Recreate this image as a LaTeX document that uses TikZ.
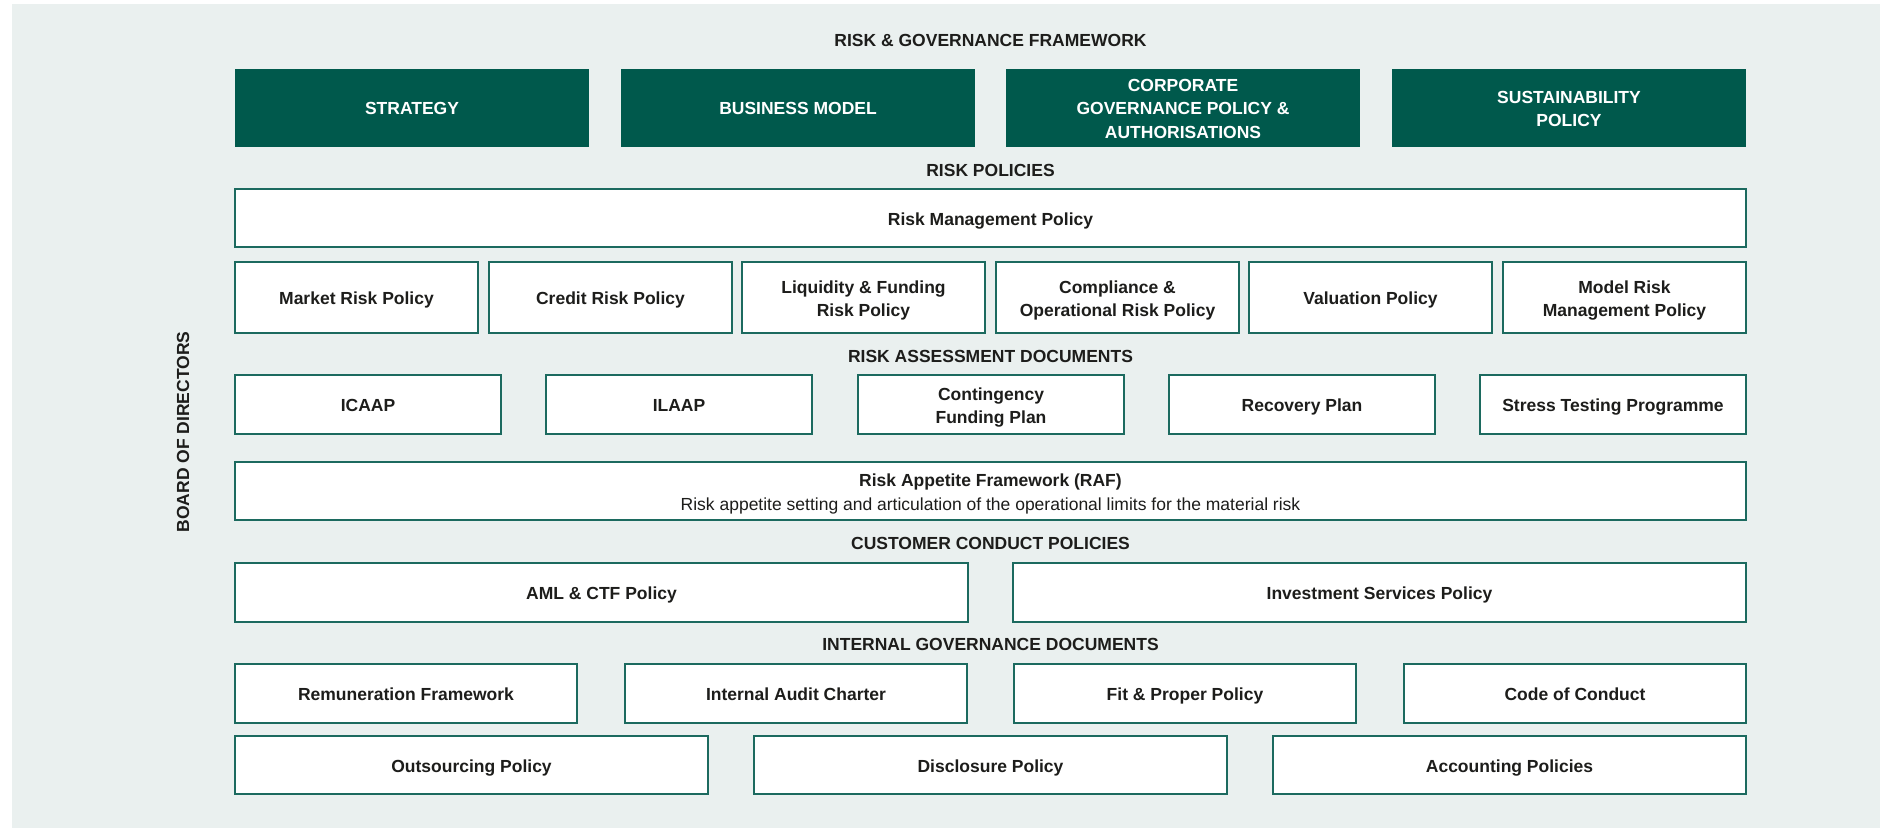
\documentclass[tikz,border=0pt]{standalone}
\usepackage{fontspec}
\setmainfont{Liberation Sans}
\definecolor{dgreen}{HTML}{00594C}
\definecolor{bgreen}{HTML}{1C6A5F}
\definecolor{bgcol}{HTML}{EAF0EF}
\definecolor{txt}{HTML}{1D1D1B}
\begin{document}
\begin{tikzpicture}[x=1pt,y=-1pt,
  lab/.style={font=\bfseries\fontsize{17.5}{23.5}\selectfont},
  dbox/.style={fill=dgreen, draw=none, inner sep=0pt},
  wbox/.style={fill=white, draw=bgreen, line width=1.8pt, inner sep=0pt},
  tx/.style={lab, text=txt, anchor=base, inner sep=0pt},
  txw/.style={lab, text=white, anchor=base, inner sep=0pt},
  head/.style={lab, text=txt, anchor=base, inner sep=0pt},
  ]
\useasboundingbox (0,0) rectangle (1887,828);
\fill[bgcol] (12,4) rectangle (1880,828);

% title
\node[head] (title) at (990.5,46.5) {RISK \& GOVERNANCE FRAMEWORK};

% top dark boxes
\tikzset{dk/.style={dbox, minimum width=354pt, minimum height=78pt}}
\node[dk] (strat) at (412,108) {};
\node[txw] (stratt) at ([yshift=-6.8pt]strat.center) {STRATEGY};
\node[dk] (bm) at (798,108) {};
\node[txw] (bmt) at ([yshift=-6.8pt]bm.center) {BUSINESS MODEL};
\node[dk] (cgp) at (1183,108) {};
\node[txw] (cgpa) at ([yshift=17pt]cgp.center) {CORPORATE};
\node[txw] (cgpb) at ([yshift=-6.8pt]cgp.center) {GOVERNANCE POLICY \&};
\node[txw] (cgpc) at ([yshift=-30.5pt]cgp.center) {AUTHORISATIONS};
\node[dk] (sus) at (1569,108) {};
\node[txw] (susa) at ([yshift=5pt]sus.center) {SUSTAINABILITY};
\node[txw] (susb) at ([yshift=-18.8pt]sus.center) {POLICY};

% risk policies
\node[head] (hrp) at (990.5,176.5) {RISK POLICIES};
\node[wbox, minimum width=1511pt, minimum height=58pt] (rmp) at (990.5,218) {};
\node[tx] (rmpt) at ([yshift=-7.3pt]rmp.center) {Risk Management Policy};
\tikzset{pb/.style={wbox, minimum width=243pt, minimum height=71pt}}
\node[pb] (p1) at (356.5,297.5) {};
\node[tx] (p1t) at ([yshift=-7.3pt]p1.center) {Market Risk Policy};
\node[pb] (p2) at (610.5,297.5) {};
\node[tx] (p2t) at ([yshift=-7.3pt]p2.center) {Credit Risk Policy};
\node[pb] (p3) at (863.5,297.5) {};
\node[tx] (p3a) at ([yshift=4.45pt]p3.center) {Liquidity \& Funding};
\node[tx] (p3b) at ([yshift=-19.05pt]p3.center) {Risk Policy};
\node[pb] (p4) at (1117.5,297.5) {};
\node[tx] (p4a) at ([yshift=4.45pt]p4.center) {Compliance \&};
\node[tx] (p4b) at ([yshift=-19.05pt]p4.center) {Operational Risk Policy};
\node[pb] (p5) at (1370.5,297.5) {};
\node[tx] (p5t) at ([yshift=-7.3pt]p5.center) {Valuation Policy};
\node[pb] (p6) at (1624.5,297.5) {};
\node[tx] (p6a) at ([yshift=4.45pt]p6.center) {Model Risk};
\node[tx] (p6b) at ([yshift=-19.05pt]p6.center) {Management Policy};

% risk assessment documents
\node[head] (hra) at (990.5,362.5) {RISK ASSESSMENT DOCUMENTS};
\tikzset{ab/.style={wbox, minimum width=266pt, minimum height=59pt}}
\node[ab] (a1) at (368,404.5) {};
\node[tx] (a1t) at ([yshift=-7.3pt]a1.center) {ICAAP};
\node[ab] (a2) at (679,404.5) {};
\node[tx] (a2t) at ([yshift=-7.3pt]a2.center) {ILAAP};
\node[ab] (a3) at (991,404.5) {};
\node[tx] (a3a) at ([yshift=4.45pt]a3.center) {Contingency};
\node[tx] (a3b) at ([yshift=-19.05pt]a3.center) {Funding Plan};
\node[ab] (a4) at (1302,404.5) {};
\node[tx] (a4t) at ([yshift=-7.3pt]a4.center) {Recovery Plan};
\node[ab] (a5) at (1613,404.5) {};
\node[tx] (a5t) at ([yshift=-7.3pt]a5.center) {Stress Testing Programme};

% RAF
\node[wbox, minimum width=1511pt, minimum height=58pt] (raf) at (990.5,491) {};
\node[tx] (rafa) at ([yshift=5pt]raf.center) {Risk Appetite Framework (RAF)};
\node[tx, font=\fontsize{17.5}{23.5}\selectfont] (rafb) at ([yshift=-19pt]raf.center)
  {Risk appetite setting and articulation of the operational limits for the material risk};

% customer conduct
\node[head] (hcc) at (990.5,549.5) {CUSTOMER CONDUCT POLICIES};
\tikzset{cb/.style={wbox, minimum width=733pt, minimum height=59pt}}
\node[cb] (c1) at (601.5,592.5) {};
\node[tx] (c1t) at ([yshift=-7.3pt]c1.center) {AML \& CTF Policy};
\node[cb] (c2) at (1379.5,592.5) {};
\node[tx] (c2t) at ([yshift=-7.3pt]c2.center) {Investment Services Policy};

% internal governance
\node[head] (hig) at (990.5,650.5) {INTERNAL GOVERNANCE DOCUMENTS};
\tikzset{gb/.style={wbox, minimum width=342pt, minimum height=59pt}}
\node[gb] (g1) at (406,693.5) {};
\node[tx] (g1t) at ([yshift=-7.3pt]g1.center) {Remuneration Framework};
\node[gb] (g2) at (796,693.5) {};
\node[tx] (g2t) at ([yshift=-7.3pt]g2.center) {Internal Audit Charter};
\node[gb] (g3) at (1185,693.5) {};
\node[tx] (g3t) at ([yshift=-7.3pt]g3.center) {Fit \& Proper Policy};
\node[gb] (g4) at (1575,693.5) {};
\node[tx] (g4t) at ([yshift=-7.3pt]g4.center) {Code of Conduct};
\tikzset{hb/.style={wbox, minimum width=473pt, minimum height=58pt}}
\node[hb] (h1) at (471.5,765) {};
\node[tx] (h1t) at ([yshift=-7.3pt]h1.center) {Outsourcing Policy};
\node[hb] (h2) at (990.5,765) {};
\node[tx] (h2t) at ([yshift=-7.3pt]h2.center) {Disclosure Policy};
\node[hb] (h3) at (1509.5,765) {};
\node[tx] (h3t) at ([yshift=-7.3pt]h3.center) {Accounting Policies};

% board of directors
\node[lab, text=txt, rotate=90, inner sep=0pt] (bod) at (183,432) {BOARD OF DIRECTORS};
\end{tikzpicture}
\end{document}
